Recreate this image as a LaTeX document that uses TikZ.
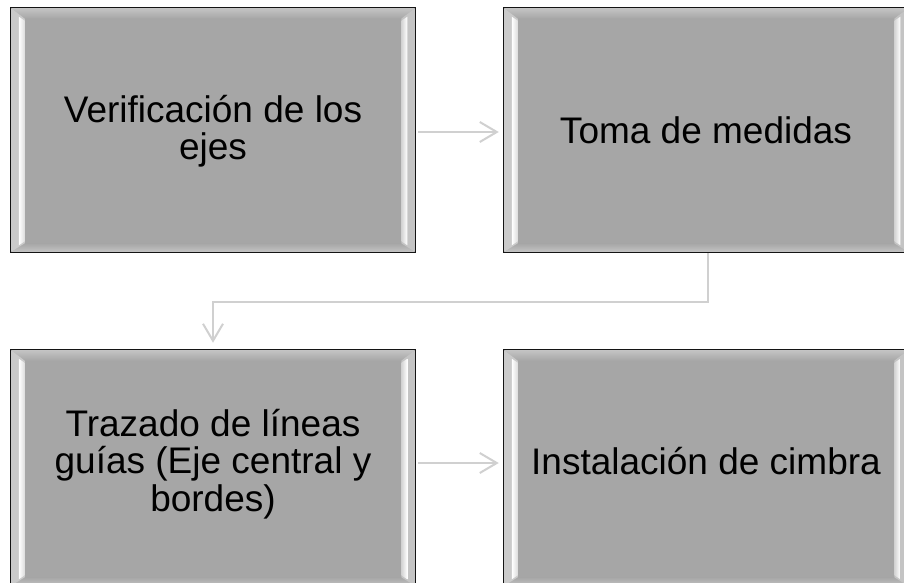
\documentclass[tikz,border=0pt]{standalone}
\usepackage{fontspec}
\setmainfont{Liberation Sans}
\usetikzlibrary{arrows.meta,calc}
\definecolor{boxgray}{HTML}{A6A6A6}
\definecolor{bandgray}{HTML}{C4C4C4}
\definecolor{connc}{HTML}{D0D0D0}
\tikzset{
  x=1pt, y=1pt,
  stepbox/.style={draw=black!92, line width=2.5pt, fill=boxgray, minimum width=404pt, minimum height=244pt, inner sep=0pt},
  lowbox/.style={stepbox, minimum height=236pt},
  steptext/.style={align=center, font=\fontsize{37}{37.5}\selectfont, inner sep=0pt, text=black},
  conn/.style={draw=connc, line width=2pt, -{Straight Barb[length=17pt,width=20pt,line width=2pt]}},
}
\newcommand{\bevelbox}[1]{%
  \path (#1.north west) coordinate (nw) (#1.north east) coordinate (ne)
        (#1.south west) coordinate (sw) (#1.south east) coordinate (se);
  % top band
  \shade[top color=bandgray, bottom color=boxgray]
    ($(nw)+(1.3,-1.3)$) -- ($(ne)+(-1.3,-1.3)$) -- ($(ne)+(-15,-12)$) -- ($(nw)+(15,-12)$) -- cycle;
  % bottom band
  \shade[top color=boxgray, bottom color=bandgray]
    ($(sw)+(1.3,1.3)$) -- ($(se)+(-1.3,1.3)$) -- ($(se)+(-15,10)$) -- ($(sw)+(15,10)$) -- cycle;
  % left band
  \fill[bandgray!90!white]
    ($(nw)+(1.3,-1.3)$) -- ($(nw)+(15,-12)$) -- ($(sw)+(15,10)$) -- ($(sw)+(1.3,1.3)$) -- cycle;
  \shade[left color=white, right color=white!60!boxgray]
    ($(nw)+(9,-10)$) -- ($(nw)+(15,-14)$) -- ($(sw)+(15,12)$) -- ($(sw)+(9,8)$) -- cycle;
  % right band
  \fill[bandgray]
    ($(ne)+(-1.3,-1.3)$) -- ($(ne)+(-15,-12)$) -- ($(se)+(-15,10)$) -- ($(se)+(-1.3,1.3)$) -- cycle;
  \shade[left color=white!50!boxgray, right color=white]
    ($(ne)+(-15,-14)$) -- ($(ne)+(-9,-10)$) -- ($(se)+(-9,8)$) -- ($(se)+(-15,12)$) -- cycle;
}
\begin{document}
\begin{tikzpicture}
\useasboundingbox (0,0) rectangle (904,-583);
\clip (0,0) rectangle (904,-583);
\fill[white] (0,0) rectangle (904,-583);

\node[stepbox] (b1) at (213,-130) {};
\node[stepbox] (b2) at (706,-130) {};
\node[lowbox]  (b3) at (213,-468) {};
\node[lowbox]  (b4) at (706,-468) {};

\bevelbox{b1}
\bevelbox{b2}
\bevelbox{b3}
\bevelbox{b4}

\node[steptext] (t1) at (213,-131) {Verificación de los\\ejes};
\node[steptext] (t2) at (706,-130) {Toma de medidas};
\node[steptext] (t3) at (213,-464) {Trazado de líneas\\guías (Eje central y\\bordes)};
\node[steptext] (t4) at (706,-461) {Instalación de cimbra};

\draw[conn] ([xshift=2pt,yshift=-2pt]b1.east) -- ([xshift=-4pt,yshift=-2pt]b2.west);
\draw[conn] ([xshift=2pt,yshift=5pt]b3.east) -- ([xshift=-4pt,yshift=5pt]b4.west);
\draw[conn] ([xshift=2pt]b2.south) -- ++(0,-49) -| ([yshift=6pt]b3.north);
\end{tikzpicture}
\end{document}
